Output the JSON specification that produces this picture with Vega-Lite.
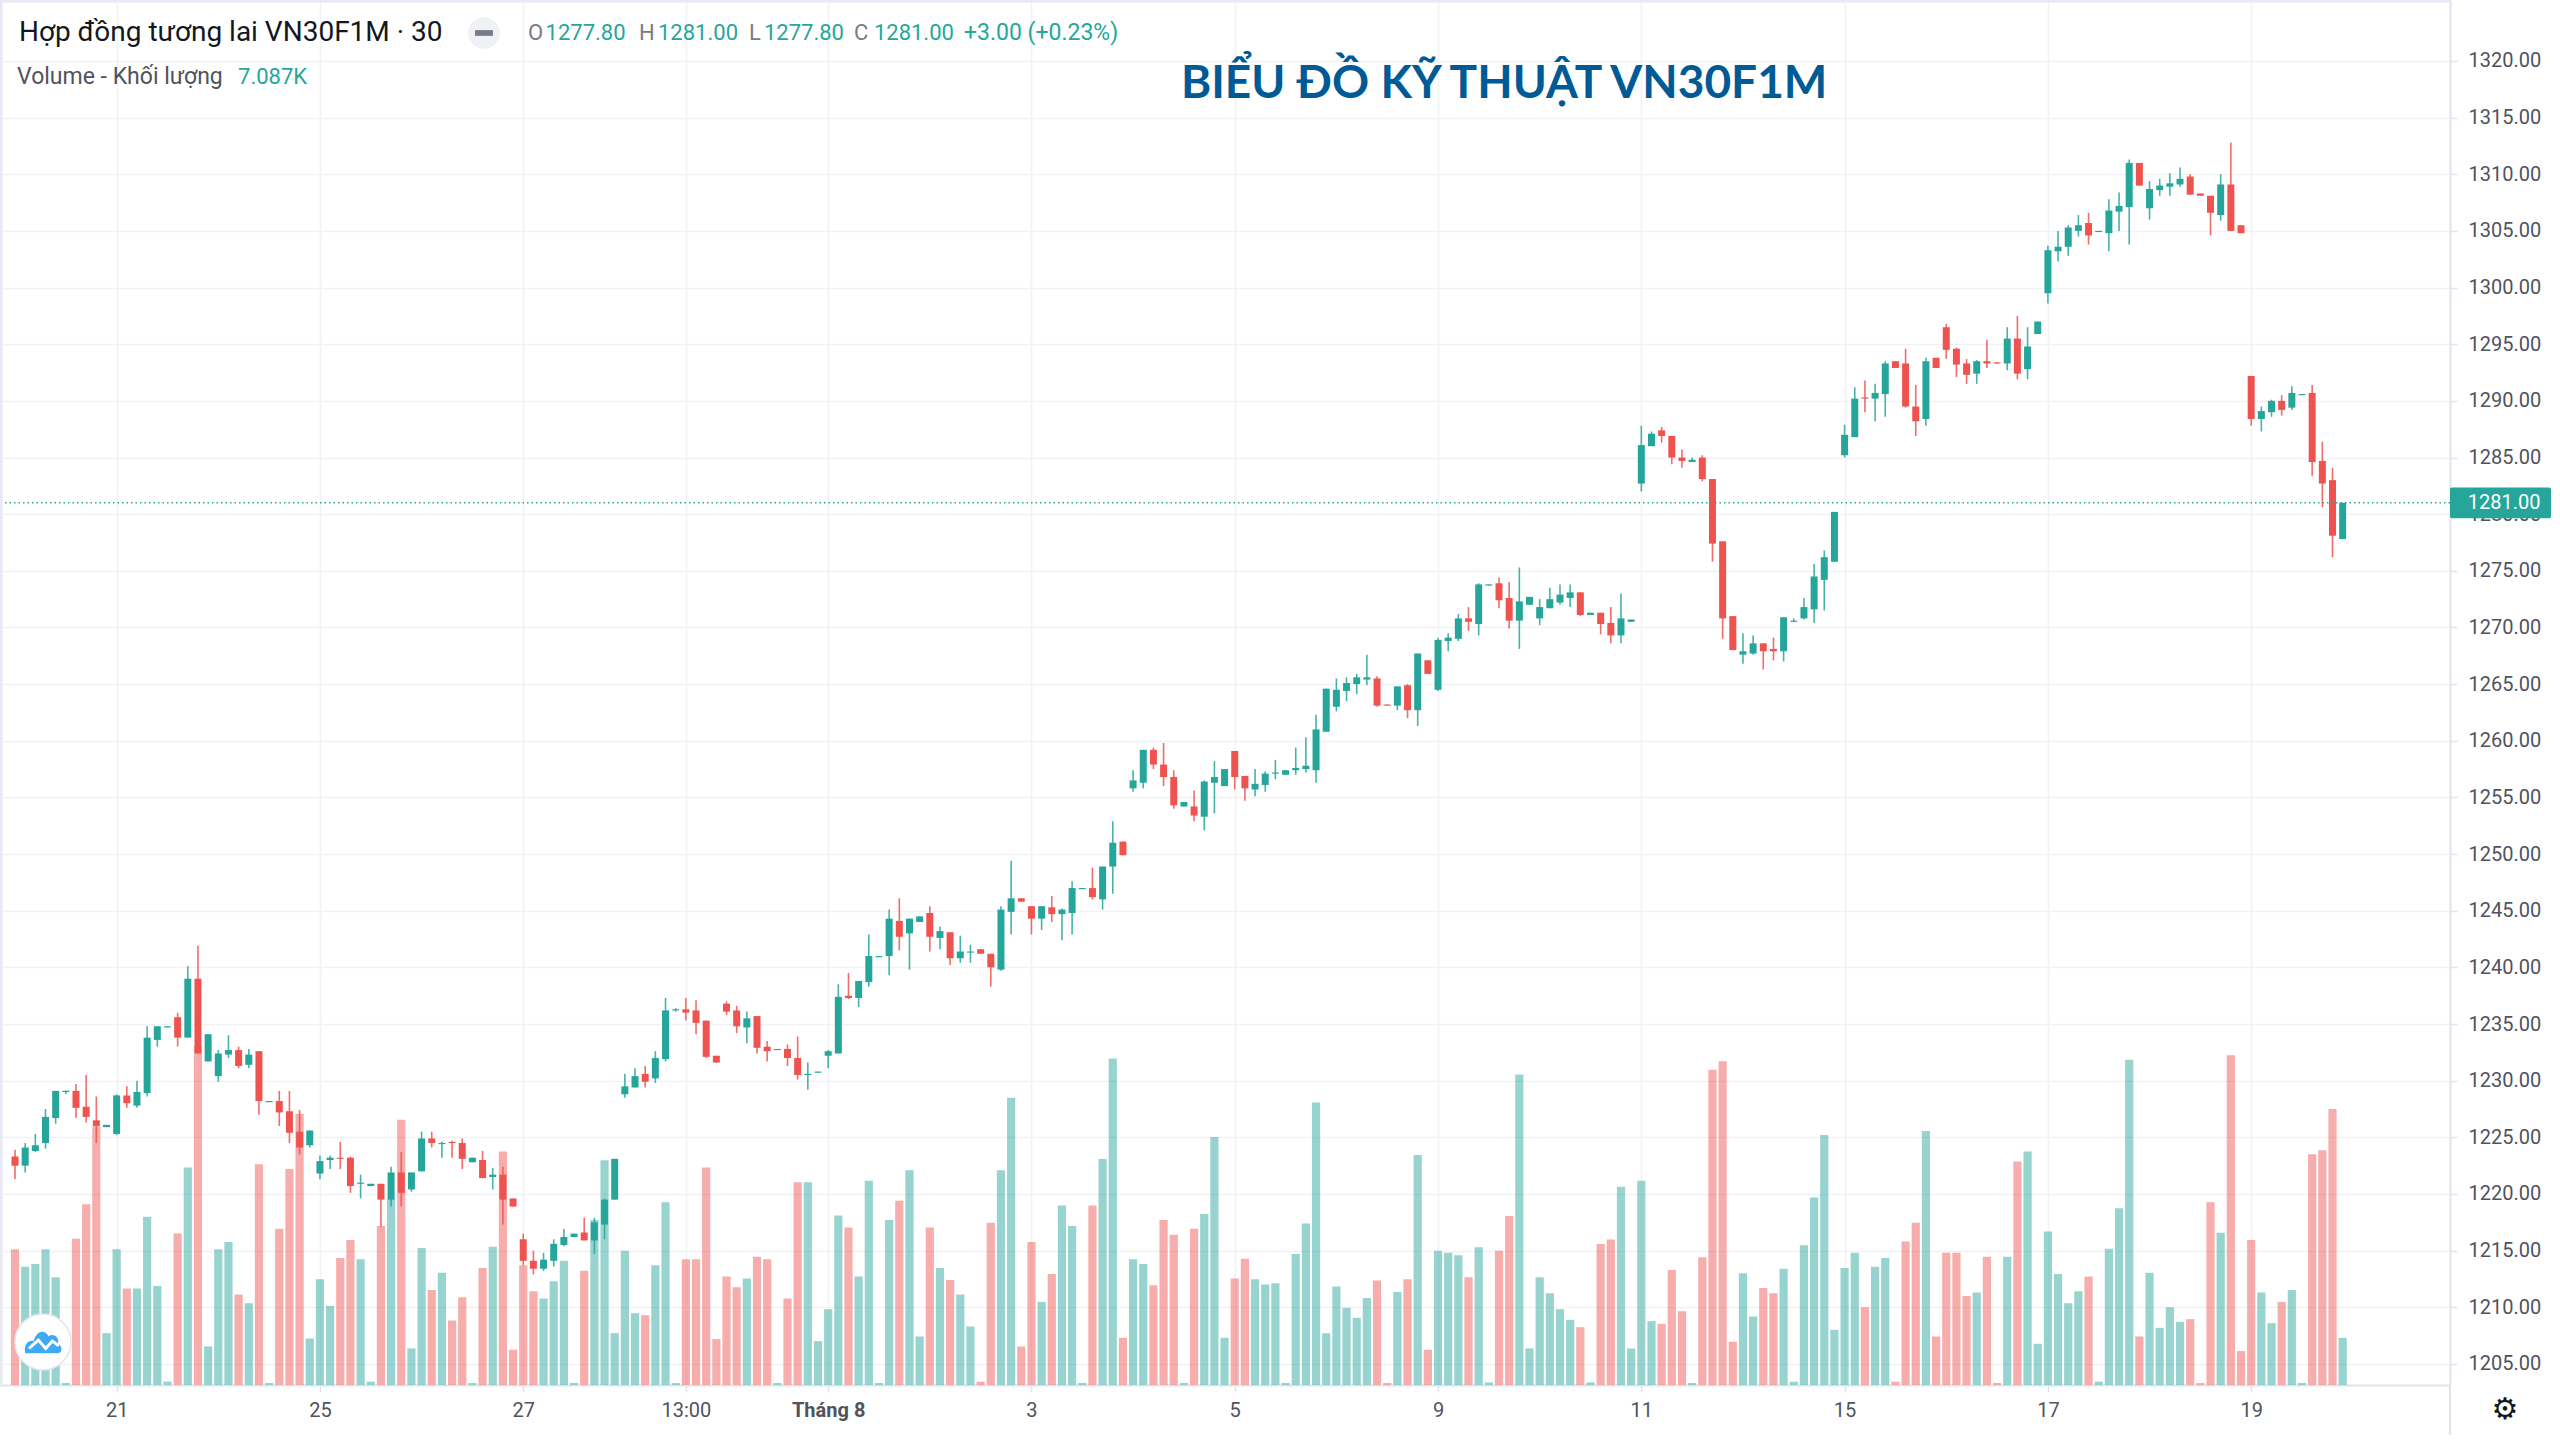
{"$schema":"https://vega.github.io/schema/vega-lite/v6.json","width":2450,"height":1385,"autosize":{"type":"none"},"padding":{"left":0,"top":0,"right":110,"bottom":55},"background":"#ffffff","config":{"view":{"stroke":null},"text":{"font":"Roboto"},"axis":{"title":null,"labelFont":"Roboto","labelColor":"#50535e","labelFontSize":20,"gridColor":"#f1f2f5","gridWidth":1.6,"tickColor":"#e0e3eb","tickWidth":1.5,"tickSize":7,"domainColor":"#e0e3eb","domainWidth":2}},"resolve":{"scale":{"y":"independent"},"axis":{"x":"independent","y":"independent"}},"datasets":{"bars":[
{"i":0,"o":1223.3,"h":1223.9,"l":1221.3,"c":1222.5,"v":20.4,"d":"down"},
{"i":1,"o":1222.5,"h":1224.5,"l":1221.9,"c":1224.1,"v":17.8,"d":"up"},
{"i":2,"o":1223.8,"h":1225.3,"l":1223.7,"c":1224.3,"v":18.2,"d":"up"},
{"i":3,"o":1224.5,"h":1227.5,"l":1224.0,"c":1226.8,"v":20.4,"d":"up"},
{"i":4,"o":1226.7,"h":1229.1,"l":1226.2,"c":1229.1,"v":16.2,"d":"up"},
{"i":5,"o":1229.0,"h":1229.1,"l":1228.8,"c":1229.1,"v":0.3,"d":"up"},
{"i":6,"o":1229.1,"h":1229.7,"l":1226.7,"c":1227.6,"v":22.0,"d":"down"},
{"i":7,"o":1227.7,"h":1230.5,"l":1226.3,"c":1226.8,"v":27.2,"d":"down"},
{"i":8,"o":1226.5,"h":1228.6,"l":1224.5,"c":1226.0,"v":38.9,"d":"down"},
{"i":9,"o":1225.9,"h":1226.1,"l":1225.9,"c":1226.1,"v":7.8,"d":"up"},
{"i":10,"o":1225.3,"h":1228.8,"l":1225.2,"c":1228.7,"v":20.4,"d":"up"},
{"i":11,"o":1228.7,"h":1229.5,"l":1227.6,"c":1228.0,"v":14.5,"d":"down"},
{"i":12,"o":1227.8,"h":1230.0,"l":1227.6,"c":1229.0,"v":14.5,"d":"up"},
{"i":13,"o":1228.9,"h":1234.8,"l":1228.6,"c":1233.8,"v":25.3,"d":"up"},
{"i":14,"o":1233.6,"h":1234.8,"l":1233.0,"c":1234.8,"v":14.9,"d":"up"},
{"i":15,"o":1234.7,"h":1234.8,"l":1234.7,"c":1234.8,"v":0.5,"d":"up"},
{"i":16,"o":1235.6,"h":1236.0,"l":1233.0,"c":1233.8,"v":22.8,"d":"down"},
{"i":17,"o":1233.8,"h":1240.1,"l":1233.8,"c":1239.0,"v":32.7,"d":"up"},
{"i":18,"o":1239.0,"h":1241.9,"l":1232.4,"c":1232.4,"v":51.0,"d":"down"},
{"i":19,"o":1231.7,"h":1234.1,"l":1231.7,"c":1234.1,"v":5.8,"d":"up"},
{"i":20,"o":1230.4,"h":1232.7,"l":1229.9,"c":1232.4,"v":20.4,"d":"up"},
{"i":21,"o":1232.3,"h":1234.0,"l":1232.0,"c":1232.7,"v":21.5,"d":"up"},
{"i":22,"o":1232.7,"h":1233.0,"l":1231.1,"c":1231.3,"v":13.6,"d":"down"},
{"i":23,"o":1231.4,"h":1232.8,"l":1231.1,"c":1232.3,"v":12.3,"d":"up"},
{"i":24,"o":1232.6,"h":1232.6,"l":1227.0,"c":1228.2,"v":33.2,"d":"down"},
{"i":25,"o":1228.1,"h":1228.2,"l":1228.1,"c":1228.2,"v":0.3,"d":"up"},
{"i":26,"o":1228.2,"h":1229.1,"l":1226.0,"c":1227.2,"v":23.5,"d":"down"},
{"i":27,"o":1227.3,"h":1229.1,"l":1224.5,"c":1225.4,"v":32.5,"d":"down"},
{"i":28,"o":1225.5,"h":1227.4,"l":1223.5,"c":1224.1,"v":40.8,"d":"down"},
{"i":29,"o":1224.3,"h":1225.6,"l":1224.1,"c":1225.6,"v":7.0,"d":"up"},
{"i":30,"o":1221.8,"h":1223.4,"l":1221.3,"c":1222.9,"v":15.9,"d":"up"},
{"i":31,"o":1223.0,"h":1223.4,"l":1222.2,"c":1223.2,"v":11.9,"d":"up"},
{"i":32,"o":1223.2,"h":1224.6,"l":1222.2,"c":1223.1,"v":19.1,"d":"down"},
{"i":33,"o":1223.2,"h":1223.3,"l":1220.1,"c":1220.7,"v":21.8,"d":"down"},
{"i":34,"o":1220.9,"h":1221.7,"l":1219.6,"c":1221.0,"v":18.9,"d":"up"},
{"i":35,"o":1220.7,"h":1220.9,"l":1220.7,"c":1220.9,"v":0.5,"d":"up"},
{"i":36,"o":1220.9,"h":1220.9,"l":1217.1,"c":1219.5,"v":23.9,"d":"down"},
{"i":37,"o":1219.5,"h":1222.4,"l":1218.9,"c":1221.9,"v":28.0,"d":"up"},
{"i":38,"o":1221.9,"h":1223.7,"l":1218.9,"c":1220.1,"v":39.9,"d":"down"},
{"i":39,"o":1220.4,"h":1221.9,"l":1220.2,"c":1221.9,"v":5.5,"d":"up"},
{"i":40,"o":1222.0,"h":1225.5,"l":1222.0,"c":1224.9,"v":20.6,"d":"up"},
{"i":41,"o":1224.9,"h":1225.5,"l":1224.1,"c":1224.5,"v":14.3,"d":"down"},
{"i":42,"o":1224.4,"h":1224.6,"l":1223.2,"c":1224.5,"v":16.9,"d":"up"},
{"i":43,"o":1224.6,"h":1224.7,"l":1223.2,"c":1224.5,"v":9.7,"d":"down"},
{"i":44,"o":1224.5,"h":1224.9,"l":1222.2,"c":1223.1,"v":13.2,"d":"down"},
{"i":45,"o":1222.8,"h":1223.2,"l":1222.8,"c":1223.2,"v":0.3,"d":"up"},
{"i":46,"o":1223.0,"h":1223.8,"l":1221.4,"c":1221.4,"v":17.6,"d":"down"},
{"i":47,"o":1221.5,"h":1222.3,"l":1220.4,"c":1221.7,"v":20.8,"d":"up"},
{"i":48,"o":1221.7,"h":1222.4,"l":1217.3,"c":1219.5,"v":35.1,"d":"down"},
{"i":49,"o":1219.6,"h":1219.6,"l":1218.9,"c":1218.9,"v":5.3,"d":"down"},
{"i":50,"o":1216.0,"h":1216.5,"l":1213.7,"c":1214.1,"v":18.0,"d":"down"},
{"i":51,"o":1214.1,"h":1215.0,"l":1212.9,"c":1213.4,"v":14.1,"d":"down"},
{"i":52,"o":1213.4,"h":1214.8,"l":1213.2,"c":1214.2,"v":13.0,"d":"up"},
{"i":53,"o":1214.1,"h":1216.0,"l":1213.6,"c":1215.6,"v":15.6,"d":"up"},
{"i":54,"o":1215.5,"h":1216.9,"l":1215.4,"c":1216.2,"v":18.7,"d":"up"},
{"i":55,"o":1216.2,"h":1216.5,"l":1216.2,"c":1216.5,"v":0.3,"d":"up"},
{"i":56,"o":1216.6,"h":1217.9,"l":1215.9,"c":1215.9,"v":17.2,"d":"down"},
{"i":57,"o":1215.9,"h":1217.9,"l":1214.7,"c":1217.5,"v":24.8,"d":"up"},
{"i":58,"o":1217.3,"h":1219.6,"l":1216.0,"c":1219.5,"v":33.8,"d":"up"},
{"i":59,"o":1219.5,"h":1223.1,"l":1219.5,"c":1223.1,"v":7.8,"d":"up"},
{"i":60,"o":1228.8,"h":1230.6,"l":1228.5,"c":1229.5,"v":20.2,"d":"up"},
{"i":61,"o":1229.4,"h":1231.1,"l":1229.4,"c":1230.4,"v":10.8,"d":"up"},
{"i":62,"o":1230.6,"h":1231.3,"l":1229.4,"c":1229.9,"v":10.5,"d":"down"},
{"i":63,"o":1230.2,"h":1232.6,"l":1229.8,"c":1232.0,"v":18.0,"d":"up"},
{"i":64,"o":1231.9,"h":1237.3,"l":1231.7,"c":1236.2,"v":27.5,"d":"up"},
{"i":65,"o":1236.2,"h":1236.4,"l":1236.1,"c":1236.3,"v":0.3,"d":"up"},
{"i":66,"o":1236.3,"h":1237.3,"l":1235.3,"c":1236.0,"v":18.9,"d":"down"},
{"i":67,"o":1236.2,"h":1237.1,"l":1234.1,"c":1235.1,"v":18.9,"d":"down"},
{"i":68,"o":1235.3,"h":1235.3,"l":1232.0,"c":1232.1,"v":32.7,"d":"down"},
{"i":69,"o":1232.2,"h":1232.2,"l":1231.6,"c":1231.6,"v":6.9,"d":"down"},
{"i":70,"o":1236.8,"h":1237.0,"l":1235.8,"c":1236.1,"v":16.3,"d":"down"},
{"i":71,"o":1236.2,"h":1236.6,"l":1234.2,"c":1234.8,"v":14.7,"d":"down"},
{"i":72,"o":1234.7,"h":1236.1,"l":1233.3,"c":1235.5,"v":16.0,"d":"up"},
{"i":73,"o":1235.7,"h":1235.7,"l":1232.4,"c":1232.9,"v":19.3,"d":"down"},
{"i":74,"o":1233.0,"h":1233.5,"l":1231.7,"c":1232.6,"v":18.9,"d":"down"},
{"i":75,"o":1232.7,"h":1232.8,"l":1232.7,"c":1232.8,"v":0.3,"d":"up"},
{"i":76,"o":1232.8,"h":1233.2,"l":1231.3,"c":1232.0,"v":13.0,"d":"down"},
{"i":77,"o":1232.0,"h":1233.9,"l":1230.1,"c":1230.5,"v":30.5,"d":"down"},
{"i":78,"o":1230.5,"h":1231.6,"l":1229.2,"c":1230.6,"v":30.5,"d":"up"},
{"i":79,"o":1230.7,"h":1230.8,"l":1230.7,"c":1230.8,"v":6.6,"d":"up"},
{"i":80,"o":1232.2,"h":1232.7,"l":1231.1,"c":1232.6,"v":11.4,"d":"up"},
{"i":81,"o":1232.4,"h":1238.5,"l":1232.4,"c":1237.4,"v":25.5,"d":"up"},
{"i":82,"o":1237.5,"h":1239.5,"l":1237.2,"c":1237.3,"v":23.7,"d":"down"},
{"i":83,"o":1237.3,"h":1238.8,"l":1236.5,"c":1238.8,"v":16.3,"d":"up"},
{"i":84,"o":1238.7,"h":1242.9,"l":1238.3,"c":1241.0,"v":30.7,"d":"up"},
{"i":85,"o":1240.9,"h":1241.0,"l":1240.9,"c":1241.0,"v":0.3,"d":"up"},
{"i":86,"o":1241.0,"h":1245.1,"l":1239.3,"c":1244.3,"v":24.8,"d":"up"},
{"i":87,"o":1244.1,"h":1246.1,"l":1241.5,"c":1242.7,"v":27.7,"d":"down"},
{"i":88,"o":1243.0,"h":1244.3,"l":1239.8,"c":1244.3,"v":32.3,"d":"up"},
{"i":89,"o":1244.0,"h":1244.5,"l":1244.0,"c":1244.5,"v":7.3,"d":"up"},
{"i":90,"o":1244.8,"h":1245.4,"l":1241.4,"c":1242.7,"v":23.7,"d":"down"},
{"i":91,"o":1242.6,"h":1243.6,"l":1241.6,"c":1243.2,"v":17.6,"d":"up"},
{"i":92,"o":1243.1,"h":1243.1,"l":1240.2,"c":1240.8,"v":15.8,"d":"down"},
{"i":93,"o":1240.8,"h":1242.8,"l":1240.4,"c":1241.4,"v":13.6,"d":"up"},
{"i":94,"o":1241.3,"h":1242.0,"l":1240.4,"c":1241.4,"v":8.8,"d":"up"},
{"i":95,"o":1241.6,"h":1241.6,"l":1241.2,"c":1241.2,"v":0.5,"d":"down"},
{"i":96,"o":1241.2,"h":1241.2,"l":1238.3,"c":1240.0,"v":24.4,"d":"down"},
{"i":97,"o":1239.8,"h":1245.4,"l":1239.7,"c":1245.1,"v":32.3,"d":"up"},
{"i":98,"o":1244.9,"h":1249.4,"l":1242.9,"c":1246.1,"v":43.2,"d":"up"},
{"i":99,"o":1246.1,"h":1246.1,"l":1245.8,"c":1245.8,"v":5.8,"d":"down"},
{"i":100,"o":1245.4,"h":1245.4,"l":1242.9,"c":1244.3,"v":21.5,"d":"down"},
{"i":101,"o":1244.3,"h":1245.4,"l":1243.3,"c":1245.4,"v":12.5,"d":"up"},
{"i":102,"o":1245.3,"h":1246.3,"l":1244.0,"c":1244.7,"v":16.7,"d":"down"},
{"i":103,"o":1244.7,"h":1245.2,"l":1242.4,"c":1245.1,"v":27.0,"d":"up"},
{"i":104,"o":1244.8,"h":1247.6,"l":1242.9,"c":1247.0,"v":23.9,"d":"up"},
{"i":105,"o":1246.9,"h":1247.0,"l":1246.9,"c":1247.0,"v":0.3,"d":"up"},
{"i":106,"o":1247.0,"h":1248.8,"l":1246.0,"c":1246.2,"v":27.0,"d":"down"},
{"i":107,"o":1246.0,"h":1248.9,"l":1245.1,"c":1248.9,"v":34.0,"d":"up"},
{"i":108,"o":1248.9,"h":1252.9,"l":1246.5,"c":1251.0,"v":49.1,"d":"up"},
{"i":109,"o":1251.1,"h":1251.1,"l":1249.9,"c":1249.9,"v":7.1,"d":"down"},
{"i":110,"o":1255.8,"h":1257.4,"l":1255.5,"c":1256.5,"v":18.9,"d":"up"},
{"i":111,"o":1256.3,"h":1259.2,"l":1255.8,"c":1259.2,"v":18.2,"d":"up"},
{"i":112,"o":1259.2,"h":1259.4,"l":1257.5,"c":1257.9,"v":15.0,"d":"down"},
{"i":113,"o":1257.9,"h":1259.8,"l":1256.0,"c":1256.8,"v":24.8,"d":"down"},
{"i":114,"o":1256.8,"h":1257.4,"l":1254.0,"c":1254.3,"v":22.6,"d":"down"},
{"i":115,"o":1254.2,"h":1254.6,"l":1254.2,"c":1254.6,"v":0.3,"d":"up"},
{"i":116,"o":1254.2,"h":1255.6,"l":1252.9,"c":1253.4,"v":23.5,"d":"down"},
{"i":117,"o":1253.3,"h":1256.5,"l":1252.1,"c":1256.4,"v":25.7,"d":"up"},
{"i":118,"o":1256.3,"h":1258.2,"l":1253.6,"c":1256.8,"v":37.3,"d":"up"},
{"i":119,"o":1256.0,"h":1257.5,"l":1256.0,"c":1257.5,"v":7.1,"d":"up"},
{"i":120,"o":1259.1,"h":1259.1,"l":1255.7,"c":1256.8,"v":16.0,"d":"down"},
{"i":121,"o":1256.9,"h":1256.9,"l":1254.7,"c":1255.8,"v":19.0,"d":"down"},
{"i":122,"o":1255.7,"h":1257.5,"l":1255.1,"c":1256.2,"v":15.9,"d":"up"},
{"i":123,"o":1256.1,"h":1257.3,"l":1255.5,"c":1257.1,"v":15.1,"d":"up"},
{"i":124,"o":1257.1,"h":1258.3,"l":1256.6,"c":1257.2,"v":15.3,"d":"up"},
{"i":125,"o":1257.0,"h":1257.4,"l":1257.0,"c":1257.4,"v":0.3,"d":"up"},
{"i":126,"o":1257.4,"h":1259.4,"l":1257.0,"c":1257.6,"v":19.7,"d":"up"},
{"i":127,"o":1257.5,"h":1260.3,"l":1257.2,"c":1257.8,"v":24.3,"d":"up"},
{"i":128,"o":1257.4,"h":1262.3,"l":1256.3,"c":1261.0,"v":42.5,"d":"up"},
{"i":129,"o":1260.8,"h":1264.6,"l":1260.8,"c":1264.6,"v":7.8,"d":"up"},
{"i":130,"o":1263.0,"h":1265.5,"l":1262.6,"c":1264.5,"v":14.8,"d":"up"},
{"i":131,"o":1264.4,"h":1265.6,"l":1263.5,"c":1265.1,"v":11.6,"d":"up"},
{"i":132,"o":1265.0,"h":1265.9,"l":1264.1,"c":1265.6,"v":10.1,"d":"up"},
{"i":133,"o":1265.4,"h":1267.6,"l":1264.9,"c":1265.6,"v":13.1,"d":"up"},
{"i":134,"o":1265.5,"h":1265.7,"l":1263.0,"c":1263.1,"v":15.7,"d":"down"},
{"i":135,"o":1263.2,"h":1263.2,"l":1263.1,"c":1263.1,"v":0.3,"d":"down"},
{"i":136,"o":1263.1,"h":1264.8,"l":1262.7,"c":1264.8,"v":14.0,"d":"up"},
{"i":137,"o":1264.9,"h":1265.0,"l":1262.0,"c":1262.7,"v":15.9,"d":"down"},
{"i":138,"o":1262.7,"h":1267.7,"l":1261.3,"c":1267.7,"v":34.6,"d":"up"},
{"i":139,"o":1267.1,"h":1267.1,"l":1265.9,"c":1265.9,"v":5.3,"d":"down"},
{"i":140,"o":1264.5,"h":1269.1,"l":1264.4,"c":1268.9,"v":20.2,"d":"up"},
{"i":141,"o":1268.8,"h":1269.5,"l":1267.9,"c":1269.1,"v":19.9,"d":"up"},
{"i":142,"o":1269.0,"h":1271.2,"l":1268.8,"c":1270.8,"v":19.5,"d":"up"},
{"i":143,"o":1270.8,"h":1271.8,"l":1269.7,"c":1270.5,"v":16.2,"d":"down"},
{"i":144,"o":1270.3,"h":1273.9,"l":1269.3,"c":1273.8,"v":20.7,"d":"up"},
{"i":145,"o":1273.7,"h":1273.8,"l":1273.7,"c":1273.8,"v":0.4,"d":"up"},
{"i":146,"o":1273.9,"h":1274.4,"l":1271.7,"c":1272.4,"v":20.2,"d":"down"},
{"i":147,"o":1272.6,"h":1274.0,"l":1269.9,"c":1270.6,"v":25.4,"d":"down"},
{"i":148,"o":1270.6,"h":1275.3,"l":1268.1,"c":1272.3,"v":46.7,"d":"up"},
{"i":149,"o":1272.0,"h":1272.7,"l":1272.0,"c":1272.7,"v":5.5,"d":"up"},
{"i":150,"o":1270.8,"h":1272.5,"l":1270.2,"c":1271.8,"v":16.2,"d":"up"},
{"i":151,"o":1271.7,"h":1273.5,"l":1271.7,"c":1272.5,"v":13.8,"d":"up"},
{"i":152,"o":1272.2,"h":1273.8,"l":1272.0,"c":1272.9,"v":11.4,"d":"up"},
{"i":153,"o":1272.6,"h":1273.8,"l":1271.8,"c":1273.1,"v":9.8,"d":"up"},
{"i":154,"o":1273.1,"h":1273.1,"l":1271.0,"c":1271.1,"v":8.7,"d":"down"},
{"i":155,"o":1271.1,"h":1271.3,"l":1271.1,"c":1271.3,"v":0.4,"d":"up"},
{"i":156,"o":1271.3,"h":1271.3,"l":1269.4,"c":1270.3,"v":21.2,"d":"down"},
{"i":157,"o":1270.4,"h":1271.8,"l":1268.6,"c":1269.3,"v":21.9,"d":"down"},
{"i":158,"o":1269.3,"h":1273.0,"l":1268.6,"c":1270.8,"v":29.8,"d":"up"},
{"i":159,"o":1270.5,"h":1270.7,"l":1270.5,"c":1270.7,"v":5.5,"d":"up"},
{"i":160,"o":1282.7,"h":1287.8,"l":1282.0,"c":1286.1,"v":30.7,"d":"up"},
{"i":161,"o":1286.0,"h":1287.3,"l":1286.0,"c":1287.1,"v":9.6,"d":"up"},
{"i":162,"o":1287.4,"h":1287.7,"l":1286.3,"c":1286.9,"v":9.2,"d":"down"},
{"i":163,"o":1286.9,"h":1286.9,"l":1284.4,"c":1285.0,"v":17.3,"d":"down"},
{"i":164,"o":1285.0,"h":1285.7,"l":1284.1,"c":1284.7,"v":11.1,"d":"down"},
{"i":165,"o":1284.6,"h":1285.0,"l":1284.6,"c":1284.8,"v":0.3,"d":"up"},
{"i":166,"o":1285.0,"h":1285.2,"l":1282.9,"c":1283.1,"v":19.2,"d":"down"},
{"i":167,"o":1283.1,"h":1283.1,"l":1275.8,"c":1277.4,"v":47.4,"d":"down"},
{"i":168,"o":1277.6,"h":1277.6,"l":1269.0,"c":1270.8,"v":48.7,"d":"down"},
{"i":169,"o":1271.0,"h":1271.0,"l":1268.0,"c":1268.0,"v":6.5,"d":"down"},
{"i":170,"o":1267.6,"h":1269.5,"l":1266.8,"c":1267.9,"v":16.8,"d":"up"},
{"i":171,"o":1267.7,"h":1269.3,"l":1267.6,"c":1268.6,"v":10.3,"d":"up"},
{"i":172,"o":1268.6,"h":1268.6,"l":1266.3,"c":1267.9,"v":14.6,"d":"down"},
{"i":173,"o":1268.1,"h":1269.1,"l":1267.1,"c":1267.9,"v":13.8,"d":"down"},
{"i":174,"o":1267.9,"h":1270.9,"l":1267.0,"c":1270.9,"v":17.5,"d":"up"},
{"i":175,"o":1270.5,"h":1270.8,"l":1270.5,"c":1270.6,"v":0.5,"d":"up"},
{"i":176,"o":1270.8,"h":1272.6,"l":1270.7,"c":1271.8,"v":21.0,"d":"up"},
{"i":177,"o":1271.6,"h":1275.6,"l":1270.4,"c":1274.5,"v":28.2,"d":"up"},
{"i":178,"o":1274.2,"h":1276.8,"l":1271.5,"c":1276.2,"v":37.6,"d":"up"},
{"i":179,"o":1275.8,"h":1280.2,"l":1275.8,"c":1280.2,"v":8.3,"d":"up"},
{"i":180,"o":1285.2,"h":1287.9,"l":1285.0,"c":1287.0,"v":17.6,"d":"up"},
{"i":181,"o":1286.8,"h":1291.2,"l":1286.8,"c":1290.2,"v":19.9,"d":"up"},
{"i":182,"o":1290.3,"h":1291.8,"l":1289.0,"c":1290.2,"v":11.7,"d":"down"},
{"i":183,"o":1290.2,"h":1291.5,"l":1288.2,"c":1290.7,"v":17.8,"d":"up"},
{"i":184,"o":1290.6,"h":1293.5,"l":1288.6,"c":1293.3,"v":19.1,"d":"up"},
{"i":185,"o":1293.5,"h":1293.5,"l":1292.9,"c":1292.9,"v":0.5,"d":"down"},
{"i":186,"o":1293.3,"h":1294.6,"l":1289.4,"c":1289.5,"v":21.6,"d":"down"},
{"i":187,"o":1289.5,"h":1291.4,"l":1286.9,"c":1288.2,"v":24.4,"d":"down"},
{"i":188,"o":1288.4,"h":1293.8,"l":1287.8,"c":1293.5,"v":38.2,"d":"up"},
{"i":189,"o":1293.8,"h":1293.8,"l":1292.9,"c":1292.9,"v":7.3,"d":"down"},
{"i":190,"o":1296.5,"h":1296.8,"l":1293.7,"c":1294.5,"v":19.9,"d":"down"},
{"i":191,"o":1294.6,"h":1294.7,"l":1292.1,"c":1293.2,"v":19.9,"d":"down"},
{"i":192,"o":1293.3,"h":1293.7,"l":1291.5,"c":1292.3,"v":13.4,"d":"down"},
{"i":193,"o":1292.4,"h":1293.6,"l":1291.5,"c":1293.5,"v":13.9,"d":"up"},
{"i":194,"o":1293.5,"h":1295.4,"l":1292.9,"c":1293.3,"v":19.3,"d":"down"},
{"i":195,"o":1293.4,"h":1293.4,"l":1293.3,"c":1293.3,"v":0.3,"d":"down"},
{"i":196,"o":1293.3,"h":1296.5,"l":1292.7,"c":1295.5,"v":19.3,"d":"up"},
{"i":197,"o":1295.5,"h":1297.5,"l":1291.9,"c":1292.4,"v":33.6,"d":"down"},
{"i":198,"o":1292.8,"h":1296.5,"l":1291.9,"c":1294.8,"v":35.1,"d":"up"},
{"i":199,"o":1295.9,"h":1297.0,"l":1295.9,"c":1297.0,"v":6.2,"d":"up"},
{"i":200,"o":1299.5,"h":1303.7,"l":1298.6,"c":1303.3,"v":23.1,"d":"up"},
{"i":201,"o":1303.2,"h":1305.0,"l":1302.3,"c":1303.6,"v":16.7,"d":"up"},
{"i":202,"o":1303.6,"h":1305.5,"l":1302.8,"c":1305.3,"v":12.3,"d":"up"},
{"i":203,"o":1305.0,"h":1306.4,"l":1304.5,"c":1305.5,"v":14.1,"d":"up"},
{"i":204,"o":1305.7,"h":1306.6,"l":1303.8,"c":1304.6,"v":16.3,"d":"down"},
{"i":205,"o":1304.9,"h":1305.0,"l":1304.9,"c":1305.0,"v":0.5,"d":"up"},
{"i":206,"o":1304.8,"h":1307.8,"l":1303.2,"c":1306.8,"v":20.5,"d":"up"},
{"i":207,"o":1306.7,"h":1308.4,"l":1305.0,"c":1307.2,"v":26.6,"d":"up"},
{"i":208,"o":1307.1,"h":1311.3,"l":1303.8,"c":1311.0,"v":48.9,"d":"up"},
{"i":209,"o":1311.0,"h":1311.0,"l":1309.0,"c":1309.0,"v":7.3,"d":"down"},
{"i":210,"o":1307.0,"h":1309.4,"l":1306.0,"c":1308.7,"v":16.9,"d":"up"},
{"i":211,"o":1308.6,"h":1309.6,"l":1308.1,"c":1309.0,"v":8.6,"d":"up"},
{"i":212,"o":1308.9,"h":1310.1,"l":1308.1,"c":1309.2,"v":11.7,"d":"up"},
{"i":213,"o":1309.1,"h":1310.6,"l":1308.9,"c":1309.6,"v":9.5,"d":"up"},
{"i":214,"o":1309.8,"h":1310.0,"l":1308.2,"c":1308.2,"v":9.9,"d":"down"},
{"i":215,"o":1308.3,"h":1308.3,"l":1308.1,"c":1308.1,"v":0.3,"d":"down"},
{"i":216,"o":1308.1,"h":1308.1,"l":1304.6,"c":1306.6,"v":27.5,"d":"down"},
{"i":217,"o":1306.4,"h":1310.0,"l":1305.9,"c":1309.1,"v":22.9,"d":"up"},
{"i":218,"o":1309.1,"h":1312.8,"l":1305.0,"c":1305.0,"v":49.6,"d":"down"},
{"i":219,"o":1305.5,"h":1305.5,"l":1304.8,"c":1304.8,"v":5.1,"d":"down"},
{"i":220,"o":1292.2,"h":1292.2,"l":1287.8,"c":1288.4,"v":21.8,"d":"down"},
{"i":221,"o":1288.4,"h":1289.5,"l":1287.3,"c":1289.1,"v":13.9,"d":"up"},
{"i":222,"o":1289.0,"h":1290.1,"l":1288.6,"c":1290.0,"v":9.3,"d":"up"},
{"i":223,"o":1290.0,"h":1290.5,"l":1288.7,"c":1289.2,"v":12.5,"d":"down"},
{"i":224,"o":1289.4,"h":1291.3,"l":1289.2,"c":1290.7,"v":14.3,"d":"up"},
{"i":225,"o":1290.5,"h":1290.6,"l":1290.5,"c":1290.6,"v":0.3,"d":"up"},
{"i":226,"o":1290.7,"h":1291.4,"l":1283.4,"c":1284.6,"v":34.7,"d":"down"},
{"i":227,"o":1284.7,"h":1286.4,"l":1280.6,"c":1282.7,"v":35.3,"d":"down"},
{"i":228,"o":1283.0,"h":1284.1,"l":1276.2,"c":1278.1,"v":41.5,"d":"down"},
{"i":229,"o":1277.8,"h":1281.0,"l":1277.8,"c":1281.0,"v":7.087,"d":"up"}
]},"layer":[
{"data":{"name":"bars"},"mark":{"type":"bar","width":8.2,"opacity":0.48},"encoding":{"x":{"field":"i","type":"quantitative","scale":{"domain":[-1.476,239.56],"nice":false,"zero":false,"padding":0},"axis":{"values":[10,30,50,66,80,100,120,140,160,180,200,220],"labelExpr":"{'10':'21','30':'25','50':'27','66':'13:00','80':'Tháng 8','100':'3','120':'5','140':'9','160':'11','180':'15','200':'17','220':'19'}[datum.value]","labelFontWeight":{"condition":{"test":"datum.value==80","value":"bold"},"value":"normal"},"labelPadding":8,"grid":true,"labelFlush":false,"labelOverlap":false}},"y":{"field":"v","type":"quantitative","scale":{"domain":[0,208.3],"nice":false},"axis":null},"color":{"field":"d","type":"nominal","scale":{"domain":["up","down"],"range":["#26a69a","#ef5350"]},"legend":null}}},
{"resolve":{"axis":{"x":"independent","y":"independent"}},"layer":[
{"data":{"name":"bars"},"mark":{"type":"rule","strokeWidth":1.6,"opacity":0.85},"encoding":{"x":{"field":"i","type":"quantitative","axis":null},"y":{"field":"l","type":"quantitative","scale":{"domain":[1203.14,1325.38],"nice":false,"zero":false},"axis":{"orient":"right","values":[1205,1210,1215,1220,1225,1230,1235,1240,1245,1250,1255,1260,1265,1270,1275,1280,1285,1290,1295,1300,1305,1310,1315,1320],"format":".2f","labelPadding":11,"grid":true,"labelOverlap":false,"labelFlush":false}},"y2":{"field":"h"},"color":{"field":"d","type":"nominal","legend":null}}},
{"data":{"name":"bars"},"mark":{"type":"bar","width":7},"encoding":{"x":{"field":"i","type":"quantitative","axis":null},"y":{"field":"o","type":"quantitative","axis":null},"y2":{"field":"c"},"color":{"field":"d","type":"nominal","legend":null}}},
{"data":{"values":[{}]},"resolve":{"axis":{"x":"independent","y":"independent"}},"layer":[
{"mark":{"type":"rule","color":"#26a69a","strokeWidth":1.5,"strokeDash":[1.5,3]},"encoding":{"y":{"datum":1281,"axis":null}}},
{"mark":{"type":"rect","color":"#26a69a","cornerRadius":2},"encoding":{"x":{"datum":239.56,"axis":null},"x2":{"datum":249.5},"y":{"datum":1282.35,"axis":null},"y2":{"datum":1279.65}}},
{"mark":{"type":"text","align":"left","baseline":"middle","color":"#ffffff","fontSize":20},"encoding":{"text":{"value":"1281.00"},"x":{"datum":241.3,"axis":null},"y":{"datum":1281,"axis":null}}},
{"mark":{"type":"rule","color":"#e0e3eb","strokeWidth":2},"encoding":{"x":{"datum":239.56,"axis":null},"y":{"datum":1203.14,"axis":null},"y2":{"datum":1198.73}}},
{"mark":{"type":"rule","color":"#e6e8f4","strokeWidth":3},"encoding":{"x":{"datum":-1.38,"axis":null}}},
{"mark":{"type":"rule","color":"#e6e8f4","strokeWidth":3},"encoding":{"y":{"datum":1325.3,"axis":null}}},
{"mark":{"type":"text","align":"center","baseline":"alphabetic","color":"#005a96","font":"Lato","fontWeight":"bold","fontSize":46},"encoding":{"text":{"value":"BIỂU ĐỒ KỸ THUẬT VN30F1M"},"x":{"datum":146.5,"axis":null},"y":{"datum":1316.73,"axis":null}}},
{"mark":{"type":"text","align":"left","baseline":"middle","color":"#131722","fontSize":28},"encoding":{"text":{"value":"Hợp đồng tương lai VN30F1M · 30"},"x":{"datum":0.39,"axis":null},"y":{"datum":1322.47,"axis":null}}},
{"mark":{"type":"point","shape":"circle","filled":true,"color":"#f0f1f4","opacity":1,"size":1000},"encoding":{"x":{"datum":46.14,"axis":null},"y":{"datum":1322.47,"axis":null}}},
{"mark":{"type":"point","shape":"M-1,-0.32H1V0.32H-1Z","filled":true,"color":"#787b86","opacity":1,"size":320},"encoding":{"x":{"datum":46.14,"axis":null},"y":{"datum":1322.47,"axis":null}}},
{"mark":{"type":"text","align":"left","baseline":"middle","color":"#787b86","fontSize":22},"encoding":{"text":{"value":"O"},"x":{"datum":50.47,"axis":null},"y":{"datum":1322.47,"axis":null}}},
{"mark":{"type":"text","align":"left","baseline":"middle","color":"#26a69a","fontSize":22},"encoding":{"text":{"value":"1277.80"},"x":{"datum":52.2,"axis":null},"y":{"datum":1322.47,"axis":null}}},
{"mark":{"type":"text","align":"left","baseline":"middle","color":"#787b86","fontSize":22},"encoding":{"text":{"value":"H"},"x":{"datum":61.39,"axis":null},"y":{"datum":1322.47,"axis":null}}},
{"mark":{"type":"text","align":"left","baseline":"middle","color":"#26a69a","fontSize":22},"encoding":{"text":{"value":"1281.00"},"x":{"datum":63.26,"axis":null},"y":{"datum":1322.47,"axis":null}}},
{"mark":{"type":"text","align":"left","baseline":"middle","color":"#787b86","fontSize":22},"encoding":{"text":{"value":"L"},"x":{"datum":72.21,"axis":null},"y":{"datum":1322.47,"axis":null}}},
{"mark":{"type":"text","align":"left","baseline":"middle","color":"#26a69a","fontSize":22},"encoding":{"text":{"value":"1277.80"},"x":{"datum":73.68,"axis":null},"y":{"datum":1322.47,"axis":null}}},
{"mark":{"type":"text","align":"left","baseline":"middle","color":"#787b86","fontSize":22},"encoding":{"text":{"value":"C"},"x":{"datum":82.54,"axis":null},"y":{"datum":1322.47,"axis":null}}},
{"mark":{"type":"text","align":"left","baseline":"middle","color":"#26a69a","fontSize":22},"encoding":{"text":{"value":"1281.00"},"x":{"datum":84.5,"axis":null},"y":{"datum":1322.47,"axis":null}}},
{"mark":{"type":"text","align":"left","baseline":"middle","color":"#26a69a","fontSize":23},"encoding":{"text":{"value":"+3.00 (+0.23%)"},"x":{"datum":93.36,"axis":null},"y":{"datum":1322.47,"axis":null}}},
{"mark":{"type":"text","align":"left","baseline":"middle","color":"#50535e","fontSize":23},"encoding":{"text":{"value":"Volume - Khối lượng"},"x":{"datum":0.2,"axis":null},"y":{"datum":1318.59,"axis":null}}},
{"mark":{"type":"text","align":"left","baseline":"middle","color":"#26a69a","fontSize":22},"encoding":{"text":{"value":"7.087K"},"x":{"datum":21.94,"axis":null},"y":{"datum":1318.59,"axis":null}}},
{"mark":{"type":"text","align":"center","baseline":"middle","color":"#131722","font":"DejaVu Sans","fontSize":30},"encoding":{"text":{"value":"⚙"},"x":{"datum":244.97,"axis":null},"y":{"datum":1200.94,"axis":null}}},
{"mark":{"type":"point","shape":"circle","filled":true,"fill":"#ffffff","stroke":"#e4e6ea","strokeWidth":1.5,"opacity":1,"size":3136},"encoding":{"x":{"datum":2.75,"axis":null},"y":{"datum":1206.94,"axis":null}}},
{"mark":{"type":"point","shape":"M-0.95,0.6C-1.05,0.1 -0.75,-0.1 -0.5,-0.05C-0.35,-0.6 0.1,-0.7 0.3,-0.3C0.6,-0.5 0.9,-0.2 0.8,0.1C1.05,0.2 1.05,0.6 0.8,0.6Z","filled":true,"color":"#3fa9f5","opacity":1,"size":1400},"encoding":{"x":{"datum":2.75,"axis":null},"y":{"datum":1206.94,"axis":null}}},
{"mark":{"type":"point","shape":"M-0.75,0.35L-0.25,-0.1L0.15,0.35L0.5,-0.05L0.85,0.2","filled":false,"stroke":"#ffffff","strokeWidth":3,"opacity":1,"size":1400},"encoding":{"x":{"datum":2.75,"axis":null},"y":{"datum":1206.94,"axis":null}}}
]}
]}
]}
